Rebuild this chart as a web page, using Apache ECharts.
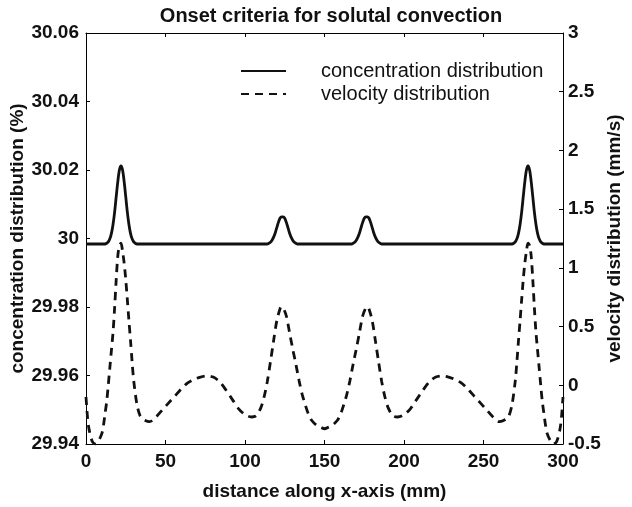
<!DOCTYPE html>
<html>
<head>
<meta charset="utf-8">
<script src="https://cdn.jsdelivr.net/npm/echarts@6/dist/echarts.min.js"></script>
<style>html,body{margin:0;padding:0;background:#fff}#c{width:632px;height:507px}</style>
</head>
<body>
<div id="c"></div>
<script>
// distance along x-axis (mm)
var concX = [0, 12, 13, 14, 15, 16, 17, 18, 19, 20, 21, 22, 23, 24, 25, 26, 27, 28, 29, 30, 31, 32,
  114, 115, 116, 117, 118, 119, 120, 121, 122, 123, 123.5, 124, 125, 126, 127, 128, 129, 130, 131, 132, 133,
  167, 168, 169, 170, 171, 172, 173, 174, 175, 176, 176.5, 177, 178, 179, 180, 181, 182, 183, 184, 185, 186,
  268, 269, 270, 271, 272, 273, 274, 275, 276, 277, 278, 279, 280, 281, 282, 283, 284, 285, 286, 287, 288, 300];
// concentration distribution (%)
var concY = [29.9984, 29.9984, 29.9986, 29.9990, 29.9999, 30.0015, 30.0041, 30.0077, 30.0122, 30.0166, 30.0200, 30.0212, 30.0200, 30.0166, 30.0122, 30.0077, 30.0041, 30.0015, 29.9999, 29.9990, 29.9986, 29.9984,
  29.9984, 29.9986, 29.9989, 29.9995, 30.0004, 30.0016, 30.0032, 30.0047, 30.0059, 30.0063, 30.0063, 30.0063, 30.0059, 30.0047, 30.0032, 30.0016, 30.0004, 29.9995, 29.9989, 29.9986, 29.9984,
  29.9984, 29.9986, 29.9989, 29.9995, 30.0004, 30.0016, 30.0032, 30.0047, 30.0059, 30.0063, 30.0063, 30.0063, 30.0059, 30.0047, 30.0032, 30.0016, 30.0004, 29.9995, 29.9989, 29.9986, 29.9984,
  29.9984, 29.9986, 29.9990, 29.9999, 30.0015, 30.0041, 30.0077, 30.0122, 30.0166, 30.0200, 30.0212, 30.0200, 30.0166, 30.0122, 30.0077, 30.0041, 30.0015, 29.9999, 29.9990, 29.9986, 29.9984, 29.9984];

var velX = [0, 1, 2, 4, 6, 8, 10, 11, 12, 13, 14, 15, 16, 17, 18, 19, 20, 21, 22, 23, 24, 25, 26, 27, 28, 29, 30, 32, 34, 36, 40, 44, 48, 52, 56, 60, 64, 68, 72, 76, 80, 84, 88, 92, 96, 100, 104, 107, 110, 112, 114, 116, 118, 120, 122, 123, 124, 126, 128, 130, 132, 134, 136, 138, 140, 142, 145, 148, 150,
  152, 155, 158, 160, 162, 164, 166, 168, 170, 172, 174, 176, 177, 178, 180, 182, 184, 186, 188, 190, 193, 196, 200, 204, 208, 212, 216, 220, 224, 228, 232, 236, 240, 244, 248, 252, 256, 260, 264, 266, 268, 270, 271, 272, 273, 274, 275, 276, 277, 278, 279, 280, 281, 282, 283, 284, 285, 286, 287, 288, 289, 290, 292, 294, 296, 298, 299, 300];
// velocity distribution (mm/s)
var velY = [-0.10, -0.28, -0.38, -0.48, -0.50, -0.47, -0.41, -0.34, -0.24, -0.14, 0.00, 0.15, 0.30, 0.45, 0.66, 0.90, 1.10, 1.19, 1.21, 1.14, 1.04, 0.90, 0.73, 0.55, 0.38, 0.20, 0.04, -0.16, -0.26, -0.29, -0.31, -0.27, -0.21, -0.15, -0.09, -0.03, 0.02, 0.05, 0.07, 0.08, 0.07, 0.03, -0.04, -0.12, -0.20, -0.25, -0.27, -0.26, -0.19, -0.10, 0.03, 0.20, 0.38, 0.55, 0.65, 0.67, 0.66, 0.59, 0.45, 0.31, 0.18, 0.04, -0.08, -0.17, -0.25, -0.30, -0.34, -0.36, -0.37,
  -0.36, -0.34, -0.30, -0.25, -0.17, -0.08, 0.04, 0.18, 0.31, 0.45, 0.59, 0.66, 0.67, 0.65, 0.55, 0.38, 0.20, 0.03, -0.10, -0.19, -0.26, -0.27, -0.25, -0.20, -0.12, -0.04, 0.03, 0.07, 0.08, 0.07, 0.05, 0.02, -0.03, -0.09, -0.15, -0.21, -0.27, -0.31, -0.29, -0.26, -0.16, 0.04, 0.20, 0.38, 0.55, 0.73, 0.90, 1.04, 1.14, 1.21, 1.19, 1.10, 0.90, 0.66, 0.45, 0.30, 0.15, 0.00, -0.14, -0.24, -0.34, -0.41, -0.47, -0.50, -0.48, -0.38, -0.28, -0.10];

var xTicks = [0, 50, 100, 150, 200, 250, 300];
var leftTicks = ['29.94', '29.96', '29.98', '30', '30.02', '30.04', '30.06'];
var rightTicks = ['-0.5', '0', '0.5', '1', '1.5', '2', '2.5', '3'];
var seriesNames = ['concentration distribution', 'velocity distribution'];

function pairs(xs, ys) { return xs.map(function (x, i) { return [x, ys[i]]; }); }

var FONT = '"Liberation Sans", Arial, sans-serif';
var TXT = '#111';
var axisLine = { show: true, onZero: false, lineStyle: { color: '#000', width: 1 } };
var tick = { show: true, inside: true, length: 4, lineStyle: { color: '#000' } };
var chart = echarts.init(document.getElementById('c'), null, { renderer: 'canvas' });
chart.setOption({
  animation: false,
  backgroundColor: '#fff',
  title: {
    text: 'Onset criteria for solutal convection',
    left: 326, top: 1, textAlign: 'center',
    textStyle: { fontFamily: FONT, fontSize: 20, fontWeight: 'bold', color: TXT }
  },
  legend: {
    data: [{ name: seriesNames[0] }, { name: seriesNames[1] }],
    orient: 'vertical', left: 235, top: 56,
    itemWidth: 45, itemHeight: 14, itemGap: 3,
    itemStyle: { opacity: 0 },
    textStyle: { fontFamily: FONT, fontSize: 20, color: TXT, padding: [0, 0, 0, 30] }
  },
  grid: { left: 86, right: 69, top: 33, bottom: 63, containLabel: false, outerBoundsMode: 'none', show: false },
  xAxis: [{
    type: 'value', min: 0, max: 300, interval: 50, position: 'bottom',
    name: 'distance along x-axis (mm)', nameLocation: 'middle', nameGap: 38, nameMoveOverlap: false,
    nameTextStyle: { fontFamily: FONT, fontSize: 19, fontWeight: 'bold', color: TXT },
    axisLine: axisLine, axisTick: tick,
    axisLabel: { fontFamily: FONT, fontSize: 19, fontWeight: 'bold', color: TXT, margin: 8,
      formatter: function (v) { return xTicks.indexOf(v) >= 0 ? String(v) : ''; } },
    splitLine: { show: false }
  }, {
    type: 'value', min: 0, max: 300, interval: 50, position: 'top',
    axisLine: axisLine, axisTick: tick,
    axisLabel: { show: false }, splitLine: { show: false }
  }],
  yAxis: [{
    type: 'value', min: 29.94, max: 30.06, interval: 0.02, position: 'left',
    name: 'concentration distribution (%)', nameLocation: 'middle', nameGap: 59, nameMoveOverlap: false,
    nameTextStyle: { fontFamily: FONT, fontSize: 19, fontWeight: 'bold', color: TXT },
    axisLine: axisLine, axisTick: tick,
    axisLabel: { fontFamily: FONT, fontSize: 19, fontWeight: 'bold', color: TXT, margin: 7,
      formatter: function (v) { var i = Math.round((v - 29.94) / 0.02); return leftTicks[i] || ''; } },
    splitLine: { show: false }
  }, {
    type: 'value', min: -0.5, max: 3, interval: 0.5, position: 'right',
    name: 'velocity distribution (mm/s)', nameLocation: 'middle', nameGap: 42, nameRotate: 90, nameMoveOverlap: false,
    nameTextStyle: { fontFamily: FONT, fontSize: 19, fontWeight: 'bold', color: TXT },
    axisLine: axisLine, axisTick: tick,
    axisLabel: { fontFamily: FONT, fontSize: 19, fontWeight: 'bold', color: TXT, margin: 5,
      formatter: function (v) { var i = Math.round((v + 0.5) / 0.5); return rightTicks[i] || ''; } },
    splitLine: { show: false }
  }],
  series: [{
    name: seriesNames[0], type: 'line', xAxisIndex: 0, yAxisIndex: 0,
    data: pairs(concX, concY), showSymbol: false, symbol: 'none', smooth: 0.3,
    lineStyle: { color: '#111', width: 2.8, type: 'solid' }, itemStyle: { color: '#111' }
  }, {
    name: seriesNames[1], type: 'line', xAxisIndex: 0, yAxisIndex: 1,
    data: pairs(velX, velY), showSymbol: false, symbol: 'none', smooth: 0.3,
    lineStyle: { color: '#111', width: 2.8, type: [8, 6] }, itemStyle: { color: '#111' }
  }]
});
</script>
</body>
</html>
